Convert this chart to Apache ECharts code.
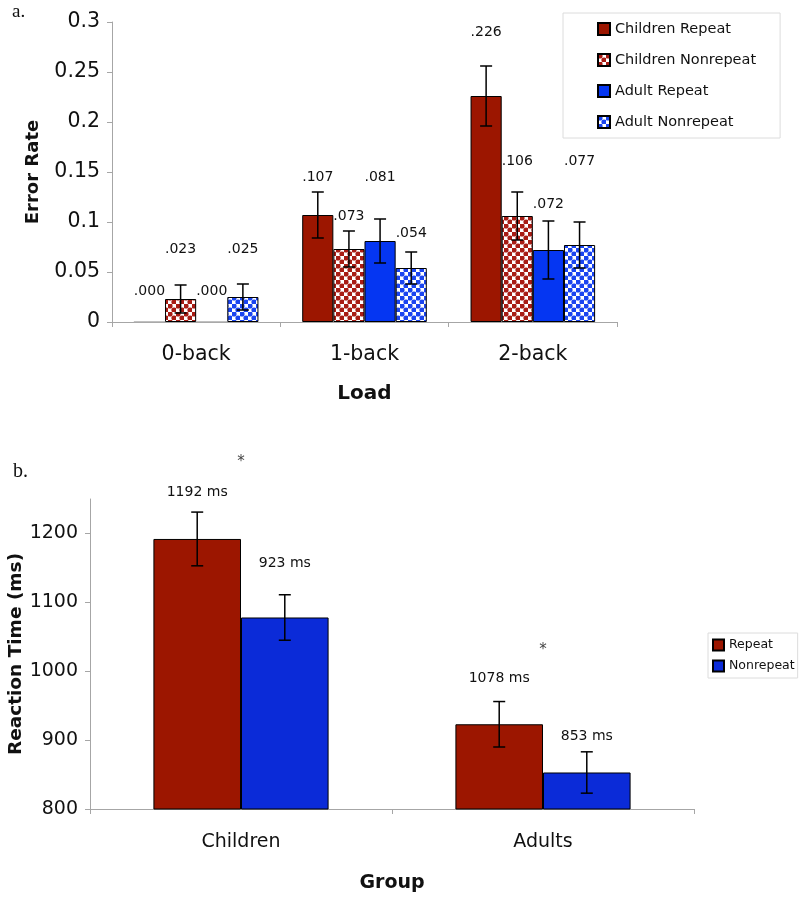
<!DOCTYPE html>
<html>
<head>
<meta charset="utf-8">
<script src="https://cdn.jsdelivr.net/npm/echarts@6/dist/echarts.min.js"></script>
<style>
  html, body { margin: 0; padding: 0; background: #fff; }
  #main { width: 800px; height: 897px; }
</style>
</head>
<body>
<div id="main"></div>
<script>
// ---- panel a: error rate ----
const loadCats = ['0-back', '1-back', '2-back'];
const childRepeat = [0, 0.107, 0.226];
const childRepeatErr = [0, 0.023, 0.030];
const childNonrep = [0.023, 0.073, 0.106];
const childNonrepErr = [0.014, 0.018, 0.024];
const adultRepeat = [0, 0.081, 0.072];
const adultRepeatErr = [0, 0.022, 0.029];
const adultNonrep = [0.025, 0.054, 0.077];
const adultNonrepErr = [0.013, 0.016, 0.023];
// value labels and the height they sit at
const childRepeatText = ['.000', '.107', '.226'];
const childRepeatTextAt = [0.031, 0.145, 0.290];
const childNonrepText = ['.023', '.073', '.106'];
const childNonrepTextAt = [0.073, 0.106, 0.161];
const adultRepeatText = ['.000', '.081', '.072'];
const adultRepeatTextAt = [0.031, 0.145, 0.118];
const adultNonrepText = ['.025', '.054', '.077'];
const adultNonrepTextAt = [0.073, 0.089, 0.161];

// ---- panel b: reaction time ----
const groupCats = ['Children', 'Adults'];
const rtRepeat = [1192, 923];
const rtRepeatErr = [39, 33];
const rtNonrep = [1078, 853];
const rtNonrepErr = [33, 30];
const rtRepeatText = ['1192 ms', '1078 ms'];
const rtRepeatTextAt = [1259, 990];
const rtNonrepText = ['923 ms', '853 ms'];
const rtNonrepTextAt = [1157, 906];
const starText = ['*', '*'];
const starAt = [1303, 1030];
const rtTicks = [800, 900, 1000, 1100, 1200];

const RED = '#9c1600';
const BLUE_A = '#0536f2';
const BLUE_B = '#0b2bd8';
const FONT = '"DejaVu Sans", Verdana, sans-serif';

// dotted fill like the excel pattern
function makePattern(dot) {
  const c = document.createElement('canvas');
  c.width = 8; c.height = 8;
  const g = c.getContext('2d');
  g.fillStyle = '#d6f0f0';
  g.fillRect(0, 0, 8, 8);
  g.fillStyle = '#ffffff';
  g.fillRect(4, 0, 4, 4);
  g.fillRect(0, 4, 4, 4);
  g.fillStyle = dot;
  [[2, 2], [6, 6]].forEach(p => {
    g.beginPath();
    g.arc(p[0], p[1], 2.6, 0, Math.PI * 2);
    g.fill();
  });
  return { image: c, repeat: 'repeat' };
}

const GAP_A = 0.26;
const GAP_B = 0.42;

function barSeries(name, axis, values, color, gap) {
  return {
    name: name,
    type: 'bar',
    xAxisIndex: axis, yAxisIndex: axis,
    // a zero bar only shows as a faint line
    data: values.map(v => v === 0 ? { value: v, itemStyle: { borderColor: '#aaa' } } : v),
    barGap: '0%',
    barCategoryGap: (gap * 100) + '%',
    itemStyle: { color: color, borderColor: '#000', borderWidth: 1 },
    emphasis: { disabled: true }
  };
}

function slotX(api, idx, n, gap, pos) {
  const band = api.size([1, 0])[0];
  const bw = band * (1 - gap) / n;
  return pos + (idx - (n - 1) / 2) * bw;
}

function errorSeries(axis, idx, n, gap, values, errs, cap) {
  return {
    type: 'custom',
    xAxisIndex: axis, yAxisIndex: axis,
    z: 10,
    data: values.map((v, i) => [i, v, errs[i]]),
    renderItem: function (params, api) {
      const e = api.value(2);
      if (!e) return null;
      const c = api.coord([api.value(0), api.value(1)]);
      const x = slotX(api, idx, n, gap, c[0]);
      const hi = api.coord([api.value(0), api.value(1) + e])[1];
      const lo = api.coord([api.value(0), api.value(1) - e])[1];
      const st = { stroke: '#000', lineWidth: 1.5 };
      return {
        type: 'group',
        children: [
          { type: 'line', shape: { x1: x, y1: hi, x2: x, y2: lo }, style: st },
          { type: 'line', shape: { x1: x - cap, y1: hi, x2: x + cap, y2: hi }, style: st },
          { type: 'line', shape: { x1: x - cap, y1: lo, x2: x + cap, y2: lo }, style: st }
        ]
      };
    }
  };
}

function textSeries(axis, idx, n, gap, at, texts, font, color) {
  return {
    type: 'custom',
    xAxisIndex: axis, yAxisIndex: axis,
    z: 11,
    data: at.map((v, i) => [i, v]),
    renderItem: function (params, api) {
      const c = api.coord([api.value(0), api.value(1)]);
      return {
        type: 'text',
        x: slotX(api, idx, n, gap, c[0]),
        y: c[1],
        style: {
          text: texts[params.dataIndex], font: font, fill: color || '#111',
          align: 'center', verticalAlign: 'middle'
        }
      };
    }
  };
}

const axisLine = { show: true, lineStyle: { color: '#a6a6a6', width: 1 } };
const labelFont = '14px ' + FONT;

const chart = echarts.init(document.getElementById('main'), null, { renderer: 'canvas' });

chart.setOption({
  animation: false,
  backgroundColor: '#fff',
  graphic: [
    { type: 'text', left: 12, top: 3, style: { text: 'a.', font: '19px "Liberation Serif", serif', fill: '#111' } },
    { type: 'text', left: 13, top: 462, style: { text: 'b.', font: '20px "Liberation Serif", serif', fill: '#111' } }
  ],
  legend: [
    {
      data: ['Children Repeat', 'Children Nonrepeat', 'Adult Repeat', 'Adult Nonrepeat'],
      orient: 'vertical',
      left: 563, top: 13,
      padding: [8, 24, 8, 34],
      itemWidth: 12, itemHeight: 12, itemGap: 15,
      icon: 'rect',
      borderColor: '#dcdcdc', borderWidth: 1,
      selectedMode: false,
      textStyle: { fontFamily: FONT, fontSize: 14.5, color: '#111', lineHeight: 16 }
    },
    {
      data: ['Repeat', 'Nonrepeat'],
      orient: 'vertical',
      left: 708, top: 633,
      padding: [5, 3, 5, 4],
      itemWidth: 11, itemHeight: 11, itemGap: 7,
      icon: 'rect',
      borderColor: '#dcdcdc', borderWidth: 1,
      selectedMode: false,
      textStyle: { fontFamily: FONT, fontSize: 12.5, color: '#111', lineHeight: 14 }
    }
  ],
  grid: [
    { left: 112, right: 183, top: 22, bottom: 575, outerBoundsMode: 'none' },
    { left: 90, right: 106, top: 499, bottom: 88, outerBoundsMode: 'none' }
  ],
  xAxis: [
    {
      type: 'category', gridIndex: 0, data: loadCats,
      axisLine: axisLine,
      axisTick: { show: true, length: 5, lineStyle: { color: '#a6a6a6' } },
      axisLabel: { fontFamily: FONT, fontSize: 20.5, color: '#111', margin: 22 },
      name: 'Load', nameLocation: 'middle', nameGap: 62,
      nameTextStyle: { fontFamily: FONT, fontSize: 20, fontWeight: 'bold', color: '#111' }
    },
    {
      type: 'category', gridIndex: 1, data: groupCats,
      axisLine: axisLine,
      axisTick: { show: true, length: 5, lineStyle: { color: '#a6a6a6' } },
      axisLabel: { fontFamily: FONT, fontSize: 19, color: '#111', margin: 24 },
      name: 'Group', nameLocation: 'middle', nameGap: 65,
      nameTextStyle: { fontFamily: FONT, fontSize: 19, fontWeight: 'bold', color: '#111' }
    }
  ],
  yAxis: [
    {
      type: 'value', gridIndex: 0, min: 0, max: 0.3, interval: 0.05,
      axisLine: axisLine,
      axisTick: { show: true, length: 5, lineStyle: { color: '#a6a6a6' } },
      splitLine: { show: false },
      axisLabel: { fontFamily: FONT, fontSize: 20.5, color: '#111', margin: 12 },
      name: 'Error Rate', nameLocation: 'middle', nameGap: 70, nameRotate: 90,
      nameTextStyle: { fontFamily: FONT, fontSize: 18, fontWeight: 'bold', color: '#111' }
    },
    {
      type: 'value', gridIndex: 1, min: 800, max: 1250,
      axisLine: axisLine,
      axisTick: { show: true, length: 5, customValues: rtTicks, lineStyle: { color: '#a6a6a6' } },
      splitLine: { show: false },
      axisLabel: {
        fontFamily: FONT, fontSize: 19, color: '#111', margin: 12, customValues: rtTicks,
        formatter: v => String(v)
      },
      name: 'Reaction Time (ms)', nameLocation: 'middle', nameGap: 64, nameRotate: 90,
      nameMoveOverlap: false,
      nameTextStyle: { fontFamily: FONT, fontSize: 18.5, fontWeight: 'bold', color: '#111' }
    }
  ],
  series: [
    barSeries('Children Repeat', 0, childRepeat, RED, GAP_A),
    barSeries('Children Nonrepeat', 0, childNonrep, makePattern('#a81c14'), GAP_A),
    barSeries('Adult Repeat', 0, adultRepeat, BLUE_A, GAP_A),
    barSeries('Adult Nonrepeat', 0, adultNonrep, makePattern('#1a44f0'), GAP_A),
    errorSeries(0, 0, 4, GAP_A, childRepeat, childRepeatErr, 6),
    errorSeries(0, 1, 4, GAP_A, childNonrep, childNonrepErr, 6),
    errorSeries(0, 2, 4, GAP_A, adultRepeat, adultRepeatErr, 6),
    errorSeries(0, 3, 4, GAP_A, adultNonrep, adultNonrepErr, 6),
    textSeries(0, 0, 4, GAP_A, childRepeatTextAt, childRepeatText, labelFont),
    textSeries(0, 1, 4, GAP_A, childNonrepTextAt, childNonrepText, labelFont),
    textSeries(0, 2, 4, GAP_A, adultRepeatTextAt, adultRepeatText, labelFont),
    textSeries(0, 3, 4, GAP_A, adultNonrepTextAt, adultNonrepText, labelFont),

    barSeries('Repeat', 1, rtRepeat, RED, GAP_B),
    barSeries('Nonrepeat', 1, rtNonrep, BLUE_B, GAP_B),
    errorSeries(1, 0, 2, GAP_B, rtRepeat, rtRepeatErr, 6),
    errorSeries(1, 1, 2, GAP_B, rtNonrep, rtNonrepErr, 6),
    textSeries(1, 0, 2, GAP_B, rtRepeatTextAt, rtRepeatText, labelFont),
    textSeries(1, 1, 2, GAP_B, rtNonrepTextAt, rtNonrepText, labelFont),
    textSeries(1, 0, 1, GAP_B, starAt, starText, '15px ' + FONT, '#444')
  ]
});
</script>
</body>
</html>
